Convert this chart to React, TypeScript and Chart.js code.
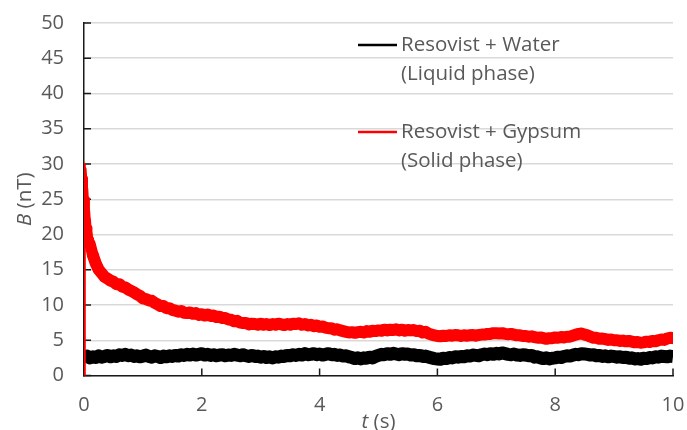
import React, { useEffect, useRef } from "react";
import { Chart, registerables } from "chart.js";

Chart.register(...registerables);

// Sampling interval of the recorded traces (s)
const T_STEP = 0.05;

// Axis ranges / ticks
const X_MIN = 0;
const X_MAX = 10;
const X_STEP = 2;
const Y_MIN = 0;
const Y_MAX = 50;
const Y_STEP = 5;

// Legend / series labels
const SERIES_WATER = ["Resovist + Water", "(Liquid phase)"];
const SERIES_GYPSUM = ["Resovist + Gypsum", "(Solid phase)"];

// Resovist + Water, B (nT) at t = 0, 0.05, ..., 10 s
const WATER = [
  2.6, 2.75, 2.5, 2.65, 2.55, 2.8, 2.6, 2.7, 2.85, 2.65,
  2.8, 2.7, 2.95, 2.85, 3.0, 2.8, 2.9, 2.7, 2.8, 2.65,
  2.75, 2.9, 2.7, 2.6, 2.8, 2.7, 2.55, 2.75, 2.65, 2.8,
  2.7, 2.85, 2.75, 2.95, 2.85, 3.0, 2.9, 3.05, 2.9, 3.0,
  3.1, 2.9, 3.0, 2.85, 2.95, 2.8, 2.9, 2.95, 2.8, 2.9,
  2.85, 3.0, 2.9, 2.8, 2.95, 2.8, 2.7, 2.85, 2.7, 2.75,
  2.6, 2.7, 2.55, 2.65, 2.5, 2.65, 2.6, 2.75, 2.7, 2.85,
  2.8, 2.95, 2.85, 3.0, 2.9, 3.1, 2.95, 3.0, 3.1, 2.95,
  3.05, 2.9, 3.0, 3.1, 2.95, 3.0, 2.85, 2.9, 2.75, 2.8,
  2.65, 2.55, 2.4, 2.5, 2.35, 2.5, 2.45, 2.6, 2.5, 2.7,
  2.85, 3.0, 2.95, 3.1, 3.0, 3.15, 3.05, 2.95, 3.1, 3.0,
  3.05, 2.9, 2.95, 2.8, 2.85, 2.7, 2.75, 2.6, 2.5, 2.4,
  2.35, 2.3, 2.45, 2.4, 2.55, 2.5, 2.65, 2.6, 2.7, 2.65,
  2.8, 2.75, 2.9, 2.85, 2.8, 2.95, 3.05, 2.95, 3.1, 3.0,
  3.15, 3.05, 3.2, 3.1, 3.0, 2.95, 3.05, 2.9, 2.85, 2.95,
  2.9, 2.8, 2.85, 2.6, 2.65, 2.5, 2.4, 2.5, 2.35, 2.45,
  2.5, 2.6, 2.55, 2.7, 2.8, 2.75, 2.9, 3.0, 2.95, 3.1,
  3.05, 3.0, 2.9, 2.95, 2.8, 2.85, 2.7, 2.8, 2.65, 2.75,
  2.7, 2.6, 2.65, 2.55, 2.6, 2.45, 2.5, 2.35, 2.4, 2.3,
  2.45, 2.4, 2.55, 2.5, 2.65, 2.6, 2.75, 2.7, 2.65, 2.75,
  2.7,
];

// Resovist + Gypsum: initial rise and fast decay, times (s) and B (nT)
const GYPSUM_RISE_T = [0, 0, 0.01, 0.02, 0.03, 0.04, 0.05, 0.06, 0.07, 0.08, 0.09];
const GYPSUM_RISE = [0, 30, 29.3, 28.0, 26.5, 25.0, 23.3, 22.0, 20.9, 20.0, 19.3];

// Resovist + Gypsum, B (nT) at t = 0.10, 0.15, ..., 10 s
const GYPSUM = [
  18.7, 17.1, 15.9, 15.0, 14.5, 14.0, 13.75, 13.45, 13.3,
  12.95, 12.95, 12.6, 12.5, 12.2, 12.0, 11.8, 11.5, 11.3, 10.95,
  10.85, 10.65, 10.6, 10.3, 10.1, 9.85, 9.85, 9.55, 9.55, 9.3,
  9.2, 9.05, 9.15, 8.9, 8.85, 8.95, 8.75, 8.85, 8.6, 8.7,
  8.5, 8.65, 8.45, 8.5, 8.3, 8.35, 8.15, 8.15, 7.95, 7.9,
  7.7, 7.75, 7.5, 7.45, 7.45, 7.25, 7.35, 7.3, 7.2, 7.35,
  7.2, 7.3, 7.15, 7.3, 7.2, 7.35, 7.25, 7.15, 7.3, 7.2,
  7.35, 7.3, 7.4, 7.2, 7.3, 7.1, 7.2, 7.0, 7.1, 6.9,
  6.95, 6.8, 6.7, 6.7, 6.5, 6.55, 6.4, 6.3, 6.2, 6.1,
  6.15, 6.05, 6.15, 6.2, 6.1, 6.3, 6.2, 6.35, 6.3, 6.4,
  6.35, 6.5, 6.4, 6.5, 6.45, 6.55, 6.4, 6.5, 6.35, 6.45,
  6.4, 6.45, 6.3, 6.35, 6.1, 6.2, 5.95, 5.8, 5.7, 5.6,
  5.55, 5.65, 5.6, 5.7, 5.65, 5.75, 5.7, 5.6, 5.7, 5.65,
  5.7, 5.75, 5.65, 5.75, 5.8, 5.8, 5.9, 5.9, 6.0, 6.0,
  5.95, 6.0, 5.9, 5.85, 5.9, 5.8, 5.7, 5.7, 5.6, 5.6,
  5.5, 5.55, 5.45, 5.35, 5.4, 5.3, 5.2, 5.3, 5.3, 5.4,
  5.35, 5.45, 5.4, 5.5, 5.5, 5.65, 5.8, 5.9, 5.95, 5.8,
  5.7, 5.5, 5.35, 5.35, 5.2, 5.25, 5.15, 5.05, 5.1, 5.0,
  5.0, 4.9, 4.95, 4.85, 4.9, 4.8, 4.7, 4.75, 4.65, 4.7,
  4.8, 4.75, 4.9, 4.85, 5.0, 5.1, 5.05, 5.25, 5.35, 5.3,
];

const FONT = "'Open Sans', 'Noto Sans', sans-serif";
const TEXT_COLOR = "#595959";
const TICK_SIZE = 20;
const TEXT_SIZE = 20.5;

const overlayPlugin = {
  id: "overlay",
  beforeDatasetsDraw(chart: any) {
    const { ctx, chartArea, scales } = chart;
    ctx.save();
    ctx.strokeStyle = "#1a1a1a";
    ctx.lineWidth = 1.5;
    ctx.beginPath();
    scales.x.ticks.forEach((t: any) => {
      const px = scales.x.getPixelForValue(t.value);
      ctx.moveTo(px, chartArea.bottom);
      ctx.lineTo(px, chartArea.bottom - 7);
    });
    scales.y.ticks.forEach((t: any) => {
      const py = scales.y.getPixelForValue(t.value);
      ctx.moveTo(chartArea.left, py);
      ctx.lineTo(chartArea.left + 7, py);
    });
    ctx.stroke();
    ctx.restore();
  },
  afterDraw(chart: any) {
    const { ctx, chartArea } = chart;
    ctx.save();
    ctx.fillStyle = TEXT_COLOR;
    ctx.textBaseline = "middle";
    const it = `italic ${TEXT_SIZE}px ${FONT}`;
    const rg = `${TEXT_SIZE}px ${FONT}`;

    // y axis title: "B (nT)"
    ctx.save();
    ctx.translate(25, (chartArea.top + chartArea.bottom) / 2);
    ctx.rotate(-Math.PI / 2);
    ctx.font = it;
    const wB = ctx.measureText("B").width;
    ctx.font = rg;
    const wRest = ctx.measureText(" (nT)").width;
    let x0 = -(wB + wRest) / 2;
    ctx.textAlign = "left";
    ctx.font = it;
    ctx.fillText("B", x0, 0);
    ctx.font = rg;
    ctx.fillText(" (nT)", x0 + wB, 0);
    ctx.restore();

    // x axis title: "t (s)"
    ctx.font = it;
    const wt = ctx.measureText("t").width;
    ctx.font = rg;
    const ws = ctx.measureText(" (s)").width;
    const cx = (chartArea.left + chartArea.right) / 2;
    x0 = cx - (wt + ws) / 2;
    ctx.textAlign = "left";
    ctx.font = it;
    ctx.fillText("t", x0, 422);
    ctx.font = rg;
    ctx.fillText(" (s)", x0 + wt, 422);

    // legend
    const entries = [
      { color: "#000000", lines: SERIES_WATER, y: 45 },
      { color: "#ff0000", lines: SERIES_GYPSUM, y: 132 },
    ];
    entries.forEach((e) => {
      ctx.strokeStyle = e.color;
      ctx.lineWidth = 2.5;
      ctx.beginPath();
      ctx.moveTo(358, e.y);
      ctx.lineTo(397, e.y);
      ctx.stroke();
      ctx.font = rg;
      ctx.fillStyle = TEXT_COLOR;
      e.lines.forEach((s, k) => ctx.fillText(s, 401, e.y + k * 29));
    });
    ctx.restore();
  },
};

export default function App() {
  const ref = useRef<HTMLCanvasElement | null>(null);

  useEffect(() => {
    if (!ref.current) return;
    const waterData = WATER.map((v, i) => ({ x: +(i * T_STEP).toFixed(2), y: v }));
    const gypsumData = [
      ...GYPSUM_RISE.map((v, i) => ({ x: GYPSUM_RISE_T[i], y: v })),
      ...GYPSUM.map((v, i) => ({ x: +((i + 2) * T_STEP).toFixed(2), y: v })),
    ];

    const chart = new Chart(ref.current, {
      type: "line",
      data: {
        datasets: [
          {
            label: SERIES_GYPSUM.join(" "),
            data: gypsumData,
            borderColor: "#ff0000",
            borderWidth: 12,
            borderJoinStyle: "round",
            borderCapStyle: "round",
            pointRadius: 0,
            tension: 0,
            segment: {
              borderWidth: (c: any) => {
                const x1 = c.p1.parsed.x;
                if (x1 <= 0.01) return 3;
                return Math.min(12, Math.round((3 + 55 * x1) * 2) / 2);
              },
            },
          } as any,
          {
            label: SERIES_WATER.join(" "),
            data: waterData,
            borderColor: "#000000",
            borderWidth: 13,
            borderJoinStyle: "round",
            pointRadius: 0,
            tension: 0,
          },
        ],
      },
      options: {
        animation: false,
        responsive: false,
        events: [],
        layout: { padding: { top: 23, right: 14, left: 0, bottom: 0 } },
        plugins: {
          legend: { display: false },
          tooltip: { enabled: false },
        },
        scales: {
          x: {
            type: "linear",
            min: X_MIN,
            max: X_MAX,
            afterFit: (s: any) => {
              s.height = 54.5;
              s.paddingLeft = 0;
              s.paddingRight = 0;
            },
            ticks: {
              stepSize: X_STEP,
              color: TEXT_COLOR,
              font: { family: FONT, size: TICK_SIZE },
              padding: 18,
              maxRotation: 0,
            },
            grid: { display: false, drawTicks: false },
            border: { display: true, color: "#1a1a1a", width: 1.5 },
          },
          y: {
            type: "linear",
            min: Y_MIN,
            max: Y_MAX,
            afterFit: (s: any) => {
              s.width = 84;
              s.paddingTop = 0;
              s.paddingBottom = 0;
            },
            ticks: {
              stepSize: Y_STEP,
              color: TEXT_COLOR,
              font: { family: FONT, size: TICK_SIZE },
              padding: 20,
            },
            grid: { color: "#d9d9d9", lineWidth: 1.5, drawTicks: false },
            border: { display: true, color: "#1a1a1a", width: 1.5 },
          },
        },
      },
      plugins: [overlayPlugin],
    });
    return () => chart.destroy();
  }, []);

  return (
    <div style={{ position: "fixed", left: 0, top: 0, width: 687, height: 430, background: "#fff" }}>
      <canvas ref={ref} width={687} height={430} style={{ width: 687, height: 430 }} />
    </div>
  );
}
